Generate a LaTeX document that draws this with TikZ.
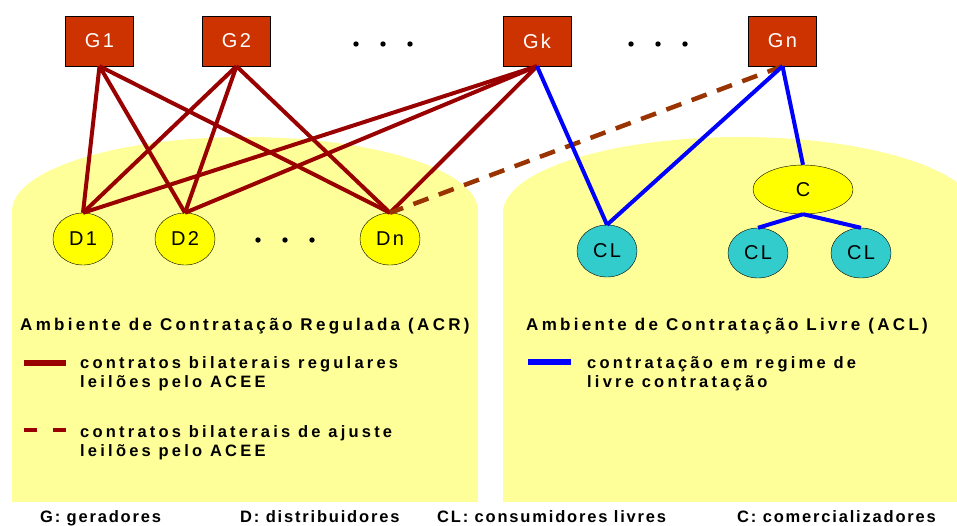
\documentclass[tikz,border=0pt]{standalone}
\usepackage{fontspec}
\setmainfont{Liberation Sans}
\newfontfamily\boxfont{Liberation Sans}[LetterSpace=12]
\newfontfamily\legfont{Liberation Sans}[LetterSpace=19.5]
\newfontfamily\keyfont{Liberation Sans}[LetterSpace=11]
\usetikzlibrary{shapes.geometric}
\definecolor{genred}{HTML}{CC3300}
\definecolor{acrred}{HTML}{990000}
\definecolor{adjbrown}{HTML}{993300}
\definecolor{zoneyellow}{HTML}{FFFF99}
\definecolor{nodeyellow}{HTML}{FFFF00}
\definecolor{clcyan}{HTML}{33CCCC}
\tikzset{
  gen/.style={draw=black, fill=genred, text=white, minimum width=68pt, minimum height=50pt,
    inner sep=0pt, font=\boxfont\fontsize{20}{24}\selectfont},
  agent/.style={ellipse, draw=black, thin, inner sep=0pt, minimum width=60pt, minimum height=52pt,
    font=\boxfont\fontsize{20}{24}\selectfont},
  dist/.style={agent, fill=nodeyellow},
  cons/.style={agent, fill=clcyan},
  acr/.style={acrred, line width=4pt},
  adj/.style={adjbrown, line width=4.5pt, dash pattern=on 16pt off 11pt},
  acl/.style={blue, line width=4pt},
  zone/.style={fill=zoneyellow},
  legtext/.style={anchor=base west, inner sep=0pt, align=left,
    font=\legfont\bfseries\fontsize{16.5}{19}\selectfont},
  title/.style={legtext, font=\legfont\bfseries\fontsize{17}{19}\selectfont},
  key/.style={anchor=base west, inner sep=0pt, font=\keyfont\bfseries\fontsize{16.5}{19}\selectfont}
}
\begin{document}
\begin{tikzpicture}[x=1pt,y=-1pt]
\clip (0,0) rectangle (957,525);
% the two market areas
\fill[zone] (245,211) ellipse [x radius=233pt, y radius=74pt];
\fill[zone] (12,211) rectangle (478,502);
\fill[zone] (740,213) ellipse [x radius=237pt, y radius=76pt];
\fill[zone] (503,213) rectangle (977,502);

% generators
\node[gen] (g1) at (99.5,41) {G1};
\node[gen] (g2) at (236.5,41) {G2};
\node[gen] (gk) at (537,41) {Gk};
\node[gen] (gn) at (782.5,41) {Gn};
\foreach \x in {356,383,410,631,658,685} \fill (\x,44) circle [radius=2.7pt];

% distributors, traders and free consumers
\node[dist] (d1) at (83,239) {D1};
\node[dist] (d2) at (185,239) {D2};
\node[dist] (dn) at (390,239) {Dn};
\foreach \x in {258,285,312} \fill (\x,240) circle [radius=2.7pt];
\node[dist, minimum width=100pt, minimum height=49pt] (c) at (803,189.5) {C};
\node[cons] (cl1) at (607,251) {CL};
\node[cons, minimum height=50pt] (cl2) at (758,253) {CL};
\node[cons, minimum height=50pt] (cl3) at (861,253) {CL};

% contracts
\foreach \g in {g1,g2,gk}
  \foreach \d in {d1,d2,dn}
    \draw[acr] (\g.south) -- (\d.north);
\draw[adj] (gn.south) -- (dn.north);
\draw[acl] (gk.south) -- (cl1.north);
\draw[acl] (gn.south) -- (cl1.north);
\draw[acl] (gn.south) -- (c.north);
\draw[acl] (c.south) -- (cl2.north);
\draw[acl] (c.south) -- (cl3.north);

% legends
\node[title] (acrtitle) at (20,330) {Ambiente de Contratação Regulada (ACR)};
\draw[acrred, line width=6pt] (24,363) -- (66,363);
\node[legtext] (acrreg) at (80,387) {contratos bilaterais regulares\\leilões pelo ACEE};
\draw[acrred, line width=4pt, dash pattern=on 13pt off 16pt] (24,430) -- (66,430);
\node[legtext] (acradj) at (80,456) {contratos bilaterais de ajuste\\leilões pelo ACEE};
\node[title] (acltitle) at (526,330) {Ambiente de Contratação Livre (ACL)};
\draw[blue, line width=6pt] (528,362) -- (571,362);
\node[legtext] (aclfree) at (587,387) {contratação em regime de\\livre contratação};

% key
\node[key] (kg) at (40,522) {G: geradores};
\node[key] (kd) at (240,522) {D: distribuidores};
\node[key] (kcl) at (437,522) {CL: consumidores livres};
\node[key] (kc) at (737,522) {C: comercializadores};
\end{tikzpicture}
\end{document}
